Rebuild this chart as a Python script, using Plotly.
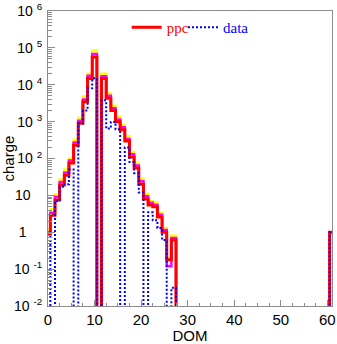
import numpy as np
import plotly.graph_objects as go

# ---------------- data ----------------
DOM = list(range(62))
N = len(DOM)

def pad(vals):
    return vals + [0] * (N - 1 - len(vals))

# ppc (red), with two variant envelopes (yellow, magenta)
ppc_head = [0.9, 2.9, 7.5, 19, 35, 75, 230, 900, 3450, 14800, 57000, 0, 14800, 4300,
            2000, 1000, 600, 300, 110, 55, 20, 8, 5.5, 4.9, 2.6, 1.0, 0.18, 0.62]
yellow_head = [1.2, 4.2, 10.5, 27, 50, 100, 320, 1250, 4800, 20000, 85000, 0, 20000, 5800,
               2700, 1350, 800, 400, 150, 75, 28, 11, 7.0, 6.5, 3.3, 1.3, 0.2, 0.8]
magenta_head = [1.0, 3.4, 9, 23, 42, 88, 270, 1050, 4000, 17500, 68000, 0, 17000, 5000,
                2300, 1150, 700, 340, 130, 65, 24, 9.5, 6.3, 5.6, 3.0, 1.15, 0.12, 0.7]
data_head = [1.0, 0, 7.0, 17, 20, 50, 0, 900, 2000, 8000, 15000, 0, 3800, 650,
             980, 620, 0, 200, 80, 40, 12, 0, 3.5, 2.1, 1.3, 0.62, 0, 0.031]
last_val = 1.0  # DOM 61

ppc = pad(ppc_head) + [last_val]
yellow = pad(yellow_head) + [last_val]
magenta = pad(magenta_head) + [last_val]
data = pad(data_head) + [last_val]

FLOOR = 1e-4

def steps(vals):
    xs = [DOM[0] - 0.5]
    ys = [FLOOR]
    for d, v in zip(DOM, vals):
        yv = v if v > 0 else FLOOR
        xs += [d - 0.5, d + 0.5]
        ys += [yv, yv]
    xs.append(DOM[-1] + 0.5)
    ys.append(FLOOR)
    return xs, ys

fig = go.Figure()

for vals, col, w, dash, name, show, leg in [
    (yellow, "#ffff00", 2.5, "solid", "yellow", False, "legend"),
    (magenta, "#ff00ff", 2.5, "solid", "magenta", False, "legend"),
    (ppc, "#ff0000", 3, "solid", '<span style="color:#ff0000">ppc</span>', True, "legend"),
    (data, "#0000ff", 2, "2px,2px", '<span style="color:#0000ff">data</span>', True, "legend2"),
]:
    xs, ys = steps(vals)
    fig.add_trace(go.Scatter(x=xs, y=ys, mode="lines", name=name, showlegend=show,
                             legend=leg, line=dict(color=col, width=w, dash=dash)))

NB = "\u00a0"
ytickvals = [1e-2, 1e-1, 1, 10, 1e2, 1e3, 1e4, 1e5, 1e6]
yticktext = ["10" + NB * 1 + "<sup>-2</sup>", "10" + NB * 1 + "<sup>-1</sup>", "1" + NB * 4,
             "10" + NB * 3, "10" + NB * 1 + "<sup>2</sup>", "10" + NB * 1 + "<sup>3</sup>",
             "10" + NB * 1 + "<sup>4</sup>", "10" + NB * 1 + "<sup>5</sup>",
             "10" + NB * 1 + "<sup>6</sup>"]
yminor = [m * 10.0 ** k for k in range(-2, 6) for m in range(2, 10)]

GRAY = "#8c8c8c"
FONT = "Liberation Sans, Arial, sans-serif"
LEGFONT = dict(family="Liberation Serif, Times New Roman, serif", size=15)

fig.update_layout(
    width=337, height=344,
    margin=dict(l=48, r=5, t=11, b=38),
    paper_bgcolor="white", plot_bgcolor="white",
    font=dict(family=FONT, size=14, color="black"),
    showlegend=True,
    legend=dict(orientation="h", x=0.277, xanchor="left", y=1.0, yanchor="top",
                bgcolor="rgba(0,0,0,0)", borderwidth=0, itemwidth=30, font=LEGFONT),
    legend2=dict(orientation="h", x=(183 - 48) / 284, xanchor="left", y=1.0, yanchor="top",
                 bgcolor="rgba(0,0,0,0)", borderwidth=0, itemwidth=30, font=LEGFONT),
    xaxis=dict(range=[0, 61], showgrid=False, zeroline=False, automargin=False,
               showline=True, linecolor=GRAY, linewidth=1, mirror=True,
               ticks="inside", ticklen=6, tickcolor=GRAY,
               tickmode="array", tickvals=[0, 10, 20, 30, 40, 50, 60],
               ticktext=["0", "10", "20", "30", "40", "50", "60"],
               ticklabelstandoff=0, tickfont=dict(size=15),
               minor=dict(ticks="inside", ticklen=3, tickcolor=GRAY, dtick=2.5, showgrid=False),
               title=dict(text="DOM", standoff=6, font=dict(size=15))),
    yaxis=dict(type="log", range=[-2.0005, 6.0005], showgrid=False, zeroline=False,
               automargin=False,
               showline=True, linecolor=GRAY, linewidth=1, mirror=True,
               ticks="inside", ticklen=7, tickcolor=GRAY,
               tickmode="array", tickvals=ytickvals, ticktext=yticktext,
               ticklabelstandoff=2, tickfont=dict(size=14),
               minor=dict(ticks="inside", ticklen=4, tickcolor=GRAY,
                          tickmode="array", tickvals=yminor, showgrid=False)),
    annotations=[dict(text="charge", textangle=-90, xref="paper", yref="paper",
                      x=-40 / 284, y=0.5, xanchor="center", yanchor="middle",
                      showarrow=False, font=dict(family=FONT, size=15))],
)

fig.write_html("out.html")
